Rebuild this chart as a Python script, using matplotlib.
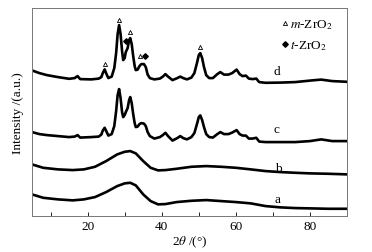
import matplotlib
matplotlib.use("Agg")
import matplotlib.pyplot as plt
from matplotlib.ticker import MultipleLocator

plt.rcParams['font.family'] = ['Liberation Serif', 'DejaVu Serif']
plt.rcParams['mathtext.fontset'] = 'stix'

# XRD patterns (offset intensities, a.u.)
x_dc = [5, 7, 9, 12, 15, 16.5, 17.3, 18, 21, 23, 23.7, 24.1, 24.6, 25.1, 25.6, 26.5, 27.2,
        27.7, 28.1, 28.5, 28.9, 29.3, 29.6, 30.0, 30.3, 30.8, 31.2, 31.5, 31.9, 32.3, 32.7,
        33.0, 33.5, 34.0, 34.5, 35.2, 35.7, 36.2, 36.8, 38, 39.5, 40.3, 41, 41.7, 42.9,
        44.2, 45, 45.8, 46.8, 48, 48.8, 49.5, 50, 50.4, 50.9, 51.4, 52, 52.8, 53.8, 55,
        55.8, 56.8, 58, 59, 60.2, 61, 61.8, 62.7, 63.5, 64.5, 65.5, 66.3, 68, 72, 76, 80,
        83, 86, 90]
y_d = [145.7, 143, 141, 139, 137.3, 138, 140, 137, 136.7, 137.5, 139, 143, 146.7, 142,
       138, 139.5, 148, 163, 182, 191, 182, 165, 156, 158, 164, 168, 176, 178, 172, 160,
       150, 146, 146.5, 150, 152, 152, 149, 141.5, 138, 136.7, 137.5, 139.5, 142, 139.5,
       136, 138, 139.5, 138, 136.7, 138.5, 143, 153, 161, 163, 158, 149, 141, 138, 138,
       142, 144, 141.5, 141.5, 143, 146.5, 142, 140, 140.5, 137.5, 137, 137.5, 134, 133.3,
       133.5, 134, 135.5, 136.5, 135, 134.3]
y_c = [84, 82, 81, 80, 79, 79.5, 81, 78.5, 79, 79.5, 81.5, 85.5, 88.3, 84.5, 80.5, 82, 90,
       105, 121, 127, 118, 104, 99, 101, 104, 108, 116, 119, 113, 102, 93, 89, 89.5, 92,
       93, 92.5, 90, 84, 80, 77.5, 79, 81, 83.3, 80, 75.5, 78, 80, 78, 76.7, 79, 83, 92,
       99, 100.7, 96, 89, 82, 79, 78.5, 82, 84, 82, 82, 83.5, 86, 82, 80.5, 80.5, 77.5,
       77.5, 78.3, 74.5, 74, 74, 74, 75, 76.7, 75, 75]

x_ab = [5, 8, 12, 16, 19, 22, 25, 28, 30, 31.5, 33, 35, 37, 39, 41, 44, 48, 52, 56, 60,
        64, 68, 72, 76, 80, 85, 90]
y_b = [51.7, 48.3, 46.7, 46, 46.7, 49.3, 55, 61.7, 64.3, 65, 62.7, 55, 48.3, 45.7, 46,
       47.3, 49.3, 50, 49.3, 48.3, 46.7, 45, 44, 43.3, 42.7, 42.3, 41.7]
y_a = [21.7, 18.3, 16.7, 15.7, 16.7, 19, 24, 30, 32.7, 33.3, 30.7, 21.7, 15, 11.7, 12,
       14, 15.3, 16, 15, 14, 12.7, 10, 8.7, 8, 7.7, 7.3, 7.3]

# phase markers above curve d
m_x = [24.6, 28.5, 31.5, 34.2, 50.4]
m_y = [152, 196, 184, 160, 169]
t_x = [30.3, 35.5]
t_y = [175, 160]

curve_labels = ["d", "c", "b", "a"]
label_x = [70.1, 70.1, 70.5, 70.3]
label_y = [145, 86.7, 48, 16.7]

fig = plt.figure(figsize=(3.72, 2.53), dpi=100)
ax = fig.add_axes([0.086, 0.142, 0.847, 0.822])

for xs, ys in [(x_dc, y_d), (x_dc, y_c), (x_ab, y_b), (x_ab, y_a)]:
    ax.plot(xs, ys, color='black', lw=1.9, solid_joinstyle='round', solid_capstyle='round')

ax.plot(m_x, m_y, ls='none', marker='^', ms=3, mfc='none', mec='black', mew=0.6)
ax.plot(t_x, t_y, ls='none', marker='D', ms=2.8, mfc='black', mec='black')

for lab, lx, ly in zip(curve_labels, label_x, label_y):
    ax.text(lx, ly, lab, fontsize=9.5, ha='left', va='center')

# legend
ax.plot([73.3], [193], ls='none', marker='^', ms=3, mfc='none', mec='black', mew=0.6)
ax.plot([73.3], [172], ls='none', marker='D', ms=2.8, mfc='black', mec='black')
ax.text(74.6, 192, r'$m$-ZrO$_2$', fontsize=9.5, va='center')
ax.text(74.6, 171, r'$t$-ZrO$_2$', fontsize=9.5, va='center')

ax.set_xlim(5, 90)
ax.set_ylim(0, 208)
ax.set_yticks([])
ax.xaxis.set_major_locator(MultipleLocator(20))
ax.xaxis.set_minor_locator(MultipleLocator(10))
ax.tick_params(axis='x', which='both', direction='in', length=3, width=0.6, labelsize=9.5, pad=3)
for s in ax.spines.values():
    s.set_color('#777777')
    s.set_linewidth(0.7)

ax.set_xlabel(r'2$\theta$ /(°)', fontsize=9.5, labelpad=1)
ax.set_ylabel('Intensity /(a.u.)', fontsize=9.5, labelpad=6)

fig.savefig("out.png", dpi=100)
